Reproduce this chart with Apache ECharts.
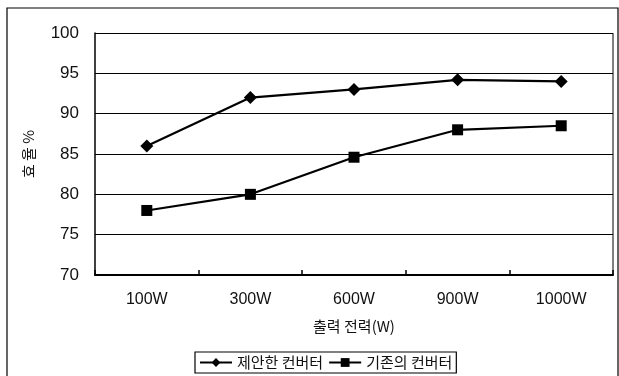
<!DOCTYPE html>
<html>
<head>
<meta charset="utf-8">
<script src="https://cdn.jsdelivr.net/npm/echarts@6/dist/echarts.min.js"></script>
<style>
  html, body { margin: 0; padding: 0; background: #fff; }
  #chart { width: 619px; height: 376px; }
</style>
</head>
<body>
<div id="chart"></div>
<script>
// Output power categories and efficiency values (%)
const categories = ['100W', '300W', '600W', '900W', '1000W'];
const proposedName = '제안한 컨버터';
const proposedValues = [86.0, 92.0, 93.0, 94.2, 94.0];
const conventionalName = '기존의 컨버터';
const conventionalValues = [78.0, 80.0, 84.6, 88.0, 88.5];
const yTicks = [70, 75, 80, 85, 90, 95, 100];

const chart = echarts.init(document.getElementById('chart'), null, { renderer: 'canvas' });

const numFont = '"Liberation Sans", Arial, sans-serif';
const krFont = '"Noto Sans CJK KR", "Liberation Sans", sans-serif';

chart.setOption({
  animation: false,
  backgroundColor: '#fff',
  grid: { left: 95, right: 6, top: 33, bottom: 101, containLabel: false },
  legend: {
    bottom: 3,
    left: 195,
    itemWidth: 32,
    itemHeight: 11,
    itemGap: 5,
    padding: [3, 4, 3, 4],
    borderColor: '#000',
    borderWidth: 1.2,
    borderRadius: 0,
    textStyle: { fontFamily: krFont, fontSize: 15, color: '#111' },
    data: [proposedName, conventionalName]
  },
  xAxis: {
    type: 'category',
    data: categories,
    boundaryGap: true,
    name: '출력 전력(W)',
    nameLocation: 'middle',
    nameGap: 44,
    nameTextStyle: { fontFamily: krFont, fontSize: 15, color: '#111' },
    axisLine: { lineStyle: { color: '#000', width: 2 } },
    axisTick: { show: true, inside: true, length: 5, lineStyle: { color: '#000', width: 1.5 } },
    axisLabel: { fontFamily: numFont, fontSize: 16, color: '#111', margin: 17 },
    splitLine: { show: false }
  },
  yAxis: {
    type: 'value',
    min: 70,
    max: 100,
    interval: 5,
    name: '효 율 %',
    nameLocation: 'middle',
    nameRotate: 90,
    nameGap: 59,
    nameTextStyle: { fontFamily: krFont, fontSize: 15, color: '#111' },
    axisLine: { show: true, lineStyle: { color: '#000', width: 1.5 } },
    axisTick: { show: false },
    axisLabel: {
      fontFamily: numFont, fontSize: 17, color: '#111', margin: 16,
      formatter: v => (yTicks.includes(v) ? String(v) : '')
    },
    splitLine: { show: true, lineStyle: { color: '#000', width: 1.2 } }
  },
  series: [
    {
      name: proposedName,
      type: 'line',
      data: proposedValues,
      symbol: 'diamond',
      symbolSize: 13,
      itemStyle: { color: '#000' },
      lineStyle: { color: '#000', width: 2.2 }
    },
    {
      name: conventionalName,
      type: 'line',
      data: conventionalValues,
      symbol: 'rect',
      symbolSize: 11,
      itemStyle: { color: '#000' },
      lineStyle: { color: '#000', width: 2.2 }
    }
  ]
});

// Outer chart frame and the right edge of the plot area
const gridRect = chart.getModel().getComponent('grid').coordinateSystem.getRect();
chart.setOption({
  graphic: [{
    type: 'rect',
    shape: { x: 7, y: 8, width: 611, height: 372 },
    style: { fill: 'none', stroke: '#000', lineWidth: 1.2 },
    silent: true
  }, {
    type: 'line',
    shape: { x1: gridRect.x + gridRect.width, y1: gridRect.y, x2: gridRect.x + gridRect.width, y2: gridRect.y + gridRect.height },
    style: { stroke: '#000', lineWidth: 1 },
    silent: true
  }]
});
</script>
</body>
</html>
